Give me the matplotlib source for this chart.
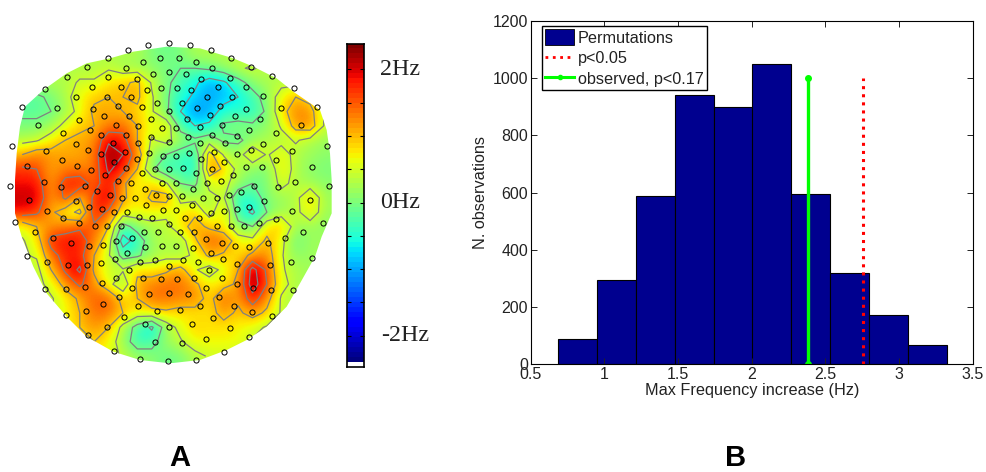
#!/usr/bin/env python
"""Scalp map of frequency increase (A) and permutation histogram (B)."""
import numpy as np
import matplotlib
matplotlib.use("Agg")
import matplotlib.pyplot as plt
from matplotlib.patches import Polygon, Patch
from matplotlib.lines import Line2D

plt.rcParams["font.family"] = ["Liberation Sans", "DejaVu Sans"]

# panel A: coarse map of the frequency change (Hz)
heat = np.array([
    [.3, .3, .3, .3, .3, .3, .3, .3, .3, .0, -.1, .0, .3, .3, .3, .3, .3, .3, .3, .3, .3, .3],
    [.3, .3, .3, .3, .3, .3, .4, .2, .2, .1, .0, -.1, -.1, .0, .2, .4, .5, .3, .3, .3, .3, .3],
    [.3, .3, .3, .3, .5, .5, .8, .9, 1.1, .4, .0, -.3, -.6, -1.0, -.8, -.3, .1, .3, .3, .3, .3, .3],
    [-.2, -.2, .0, .3, .7, .9, 1.0, 1.0, 1.1, .5, .0, -.5, -.8, -1.0, -.9, -.7, -.3, .1, .7, 1.0, .8, .3],
    [-.2, -.2, -.1, .2, .6, 1.1, 1.1, 1.0, .9, .5, .0, -.7, -1.1, -1.0, -.5, -.5, -.5, .0, .8, 1.3, 1.2, .4],
    [.0, .0, .2, .6, .9, 1.0, 1.3, 1.4, 1.0, .6, .8, -.3, -.7, -.6, .0, .1, .0, .1, .5, 1.2, 1.3, .4],
    [.3, .4, .7, 1.0, 1.1, 1.2, 2.0, 1.8, 1.0, .4, .6, .2, .0, .2, -.2, -.2, .1, .3, .3, .5, .3, .2],
    [1.0, 1.3, 1.2, 1.1, 1.1, 1.3, 2.4, 2.1, 1.3, .2, -.1, -.3, -.5, 1.2, .4, .2, .9, .4, .7, .3, .2, .1],
    [1.7, 1.6, 1.1, 1.3, 1.3, 1.3, 2.2, 1.8, 1.0, .0, -.5, -.3, -.7, 1.4, .9, .3, .1, .0, .8, .3, .1, .0],
    [1.9, 1.9, 1.1, 1.8, 1.9, 1.4, 1.9, 1.1, .6, .9, .5, -.1, -.2, .6, .6, .2, -.1, .0, .6, .3, .2, .1],
    [2.1, 2.1, 1.1, 1.7, 1.0, 1.7, 2.1, 1.1, .7, 1.1, 1.2, .3, .3, .3, .5, -.5, -.4, .1, .2, .3, .9, .2],
    [1.9, 1.7, 1.1, .7, .3, 1.9, 1.5, .7, .7, .7, .6, .7, .9, .2, 1.0, -.4, -.8, -.1, .2, .3, .8, .2],
    [.6, 1.0, 1.2, 1.3, 1.5, 1.5, 1.0, -.3, .1, .3, .3, .8, 1.2, .9, .7, .1, -.1, .8, 1.0, .2, .2, .1],
    [.4, .7, 1.8, 1.9, 1.9, 1.3, .7, -1.0, -.4, .2, .4, .2, .9, 1.5, 1.4, .7, .6, 1.1, .6, -.1, .2, .2],
    [.4, .5, 1.4, 1.8, 1.8, 1.0, .5, -.3, -.2, .2, .3, .2, .6, 1.1, .9, .8, 1.1, 1.3, .5, .1, .2, .2],
    [.3, .3, 1.0, 1.7, 2.2, .9, .5, .5, .9, .7, .9, 1.2, .5, .2, .6, 1.0, 2.3, 1.5, .5, .3, .2, .2],
    [.3, .3, .6, 1.2, 1.7, 1.2, .6, .1, 1.1, 1.3, 1.4, 1.4, 1.1, .7, .8, 1.1, 2.4, 1.6, .6, .3, .2, .2],
    [.3, .3, .4, .7, 1.1, 1.5, 1.5, .8, 1.0, 1.4, 1.4, 1.3, 1.3, .8, 1.5, 1.1, 1.9, 1.2, .4, .3, .3, .3],
    [.3, .3, .4, .7, 1.0, 1.4, 1.4, 1.0, .7, .8, .9, .8, .8, .8, 1.2, .9, 1.2, .9, .4, .3, .3, .3],
    [.3, .3, .3, .6, 1.0, 1.2, 1.0, .3, -.3, -.8, .2, .6, .9, .8, .8, .7, .6, .4, .3, .3, .3, .3],
    [.3, .3, .3, .5, .6, 1.0, .7, .2, -.4, -.3, .2, .4, .7, .7, .7, .7, .4, .3, .3, .3, .3, .3],
    [.3, .3, .3, .3, .5, .7, .6, .4, .2, .1, -.1, .0, .3, .5, .5, .4, .3, .3, .3, .3, .3, .3],
])

# outline of the interpolated map
head_x = [500, 600, 700, 760, 830, 880, 960, 980, 990, 995, 995, 965, 945, 900, 860, 800, 740, 680, 600, 510,
          420, 340, 260, 200, 140, 100, 65, 45, 45, 50, 60, 75, 130, 200, 260, 330, 400]
head_y = [50, 55, 85, 110, 145, 185, 240, 300, 370, 450, 550, 620, 680, 760, 830, 890, 930, 960, 990, 1000,
          990, 965, 920, 860, 790, 710, 620, 550, 450, 370, 290, 230, 180, 130, 100, 85, 65]

# electrode positions
elec_x = [445, 508, 569, 632, 693, 752, 815, 881, 951, 981, 987, 970, 935, 880, 816, 746, 671, 588, 504, 421,
          342, 264, 198, 135, 81, 46, 31, 35, 66, 135, 201, 262, 323, 384,
          480, 536, 429, 378, 588, 637, 508, 458, 558, 325, 410, 604, 691, 277, 363, 484, 530, 574, 654, 739,
          440, 227, 320, 394, 620, 696, 789, 471, 545, 172, 279, 354, 425, 590, 661, 737, 844, 508, 386, 312,
          630, 704, 236, 453, 562, 780, 113, 347, 415, 666, 903, 486, 529, 600, 269, 188, 746, 827, 304, 379,
          453, 635, 564, 711, 340, 227, 414, 508, 600, 675, 789, 138, 264, 375, 447, 641, 752, 877, 304, 711,
          488, 528, 568, 410, 604, 186, 342, 672, 829, 81, 231, 378, 465, 508, 549, 637, 737, 785, 935, 272,
          427, 587, 700, 314, 131, 353, 393, 487, 528, 621, 663, 885, 184, 254, 435, 579, 763, 835, 724, 291,
          329, 469, 545, 506, 687, 366, 404, 609, 650, 87, 228, 791, 930, 268, 437, 576, 527, 488, 747, 711,
          305, 141, 342, 381, 633, 672, 876, 188, 417, 457, 556, 597, 238, 506, 778, 829, 285, 321, 364, 652,
          693, 732, 105, 432, 473, 540, 582, 910, 160, 395, 617, 855, 213, 347, 665, 268, 310, 436, 486, 528,
          578, 705, 746, 804, 382, 632, 142, 344, 420, 465, 549, 595, 670, 872, 303, 203, 260, 506, 712, 811,
          386, 628, 430, 348, 482, 530, 582, 665, 305, 710, 254, 397, 199, 617, 759, 814, 448, 506, 564, 657,
          357, 310, 413, 600, 702, 257, 472, 541, 756, 371, 640, 435, 321, 507, 575, 689, 619, 465, 545]
elec_y = [44, 39, 44, 61, 84, 111, 138, 175, 231, 347, 468, 579, 683, 780, 857, 920, 965, 989, 992, 987,
          962, 916, 854, 776, 679, 577, 467, 347, 231, 176, 140, 110, 85, 61,
          83, 83, 96, 113, 96, 113, 125, 133, 133, 142, 147, 146, 144, 171, 171, 173, 173, 181, 170, 171,
          181, 201, 201, 201, 201, 201, 199, 220, 219, 234, 237, 228, 232, 233, 229, 236, 234, 243, 257, 258,
          256, 258, 269, 267, 267, 267, 286, 284, 289, 285, 285, 295, 295, 290, 300, 308, 300, 308, 316, 315,
          321, 315, 321, 318, 340, 342, 340, 336, 340, 340, 341, 363, 361, 365, 369, 365, 361, 363, 373, 371,
          378, 378, 369, 387, 387, 391, 397, 397, 391, 409, 409, 414, 416, 416, 414, 416, 412, 411, 411, 421,
          430, 429, 436, 435, 455, 454, 459, 458, 458, 459, 453, 456, 470, 467, 477, 476, 467, 472, 486, 483,
          496, 496, 497, 498, 496, 504, 504, 505, 504, 511, 514, 513, 511, 530, 524, 526, 539, 539, 531, 536,
          537, 542, 545, 546, 548, 544, 542, 564, 562, 564, 565, 563, 579, 581, 578, 566, 589, 587, 588, 588,
          588, 589, 605, 605, 606, 607, 606, 605, 623, 625, 628, 625, 638, 634, 638, 648, 646, 651, 649, 649,
          653, 648, 650, 640, 668, 670, 695, 686, 695, 689, 689, 697, 688, 697, 699, 705, 705, 707, 701, 706,
          721, 721, 743, 743, 747, 746, 743, 745, 758, 762, 771, 773, 776, 775, 773, 779, 791, 790, 793, 802,
          800, 822, 827, 828, 827, 842, 842, 841, 846, 860, 863, 881, 890, 890, 882, 895, 926, 936, 939]

cbar_ticks = [-2, -1.5, -1, -.5, 0, .5, 1, 1.5, 2]
cbar_labels = ["2Hz", "0Hz", "-2Hz"]
cbar_label_vals = [2, 0, -2]

# panel B: permutation histogram
bin_centers = [.819, 1.083, 1.346, 1.61, 1.874, 2.137, 2.401, 2.665, 2.929, 3.192]
bin_width = .2637
counts = [87, 294, 588, 940, 898, 1049, 595, 318, 172, 68]
p05 = 2.755
observed = 2.38
marker_top = 1000

W, H = 986, 472
vmin, vmax = -2.4, 2.4


def px_axes(x0, y0, x1, y1):
    return fig.add_axes([x0 / W, 1 - y1 / H, (x1 - x0) / W, (y1 - y0) / H])


fig = plt.figure(figsize=(W / 100, H / 100), dpi=100)

# --- A: map, axes in units of a third of a pixel
ax = px_axes(0, 30, 340, 380)
ax.set_xlim(0, 1020); ax.set_ylim(1050, 0); ax.axis("off")
outline = Polygon(np.column_stack([head_x, head_y]), closed=True, transform=ax.transData, fc="none", ec="none")
ax.add_patch(outline)
im = ax.imshow(heat, extent=(45, 995, 1000, 50), cmap="jet", vmin=vmin, vmax=vmax,
               interpolation="bicubic", aspect="auto")
im.set_clip_path(outline)
cols = 45 + (np.arange(heat.shape[1]) + .5) * 950 / heat.shape[1]
rows = 50 + (np.arange(heat.shape[0]) + .5) * 950 / heat.shape[0]
cs = ax.contour(cols, rows, heat, levels=[-.7, -.1, .45, 1.0, 1.6, 2.1], colors="#808080", linewidths=.9,
                linestyles="solid")
cs.set_clip_path(outline)
ax.plot(elec_x, elec_y, "o", mfc="none", mec="k", mew=.7, ms=3.7, clip_on=False)
ax.set_xlim(0, 1020); ax.set_ylim(1050, 0)

# --- colorbar
cax = px_axes(346.5, 44, 363.5, 367)
levels = np.linspace(vmin, vmax, 65)
cax.pcolormesh([0, 1], levels, np.array([(levels[:-1] + levels[1:]) / 2]).T, cmap=plt.get_cmap("jet", 64),
               vmin=vmin, vmax=vmax)
cax.set_xlim(0, 1); cax.set_ylim(-2.47, 2.38)
cax.set_xticks([]); cax.set_yticks(cbar_ticks); cax.set_yticklabels([])
cax.tick_params(axis="y", direction="in", left=True, right=True, length=3, width=.8)
for s in cax.spines.values():
    s.set_linewidth(1.2)
for lab, v in zip(cbar_labels, cbar_label_vals):
    cax.annotate(lab, (1, v), xytext=(12 if v >= 0 else 12.5, 0), textcoords="offset points", va="center", ha="left",
                 fontsize=17.3, family="Liberation Serif", color="#222222")

# --- B: histogram
ax2 = px_axes(530.7, 21, 972.7, 364.3)
ax2.bar(bin_centers, counts, width=bin_width, color="#00008f", edgecolor="k", linewidth=.8)
ax2.plot([p05, p05], [0, marker_top], ":", color="#ff0000", lw=2.2)
ax2.plot([observed, observed], [0, marker_top], "-", color="#00ff00", lw=2.4, marker="o", ms=4)
ax2.set_xlim(.5, 3.5); ax2.set_ylim(0, 1200)
ax2.set_xticks([.5, 1, 1.5, 2, 2.5, 3, 3.5])
ax2.set_xticklabels(["0.5", "1", "1.5", "2", "2.5", "3", "3.5"])
ax2.set_yticks(range(0, 1201, 200))
ax2.tick_params(direction="in", top=True, right=True, length=4, width=.7, labelsize=11.5, pad=2, colors="#222222")
ax2.set_xlabel("Max Frequency increase (Hz)", fontsize=11.7, labelpad=1, color="#222222")
ax2.set_ylabel("N. observations", fontsize=11.7, labelpad=3.5, color="#222222")
handles = [Patch(fc="#00008f", ec="k", lw=.6),
           Line2D([], [], ls=":", color="#ff0000", lw=2),
           Line2D([], [], color="#00ff00", lw=2.2, marker="o", ms=3)]
leg = ax2.legend(handles, ["Permutations", "p<0.05", "observed, p<0.17"], loc="upper left",
                 bbox_to_anchor=(11.5 / 442, 1 - 5 / 343), borderaxespad=0, fancybox=False, framealpha=1,
                 edgecolor="k", fontsize=11.7, labelspacing=.25, handlelength=1.75, handleheight=1.15,
                 handletextpad=.25, borderpad=.2, labelcolor="#222222")
leg.get_frame().set_linewidth(1)

fig.text(180 / W, 1 - 458 / H, "A", fontsize=21, fontweight="bold", ha="center", va="center")
fig.text(736 / W, 1 - 458 / H, "B", fontsize=21, fontweight="bold", ha="center", va="center")

fig.savefig("out.png", dpi=100)
